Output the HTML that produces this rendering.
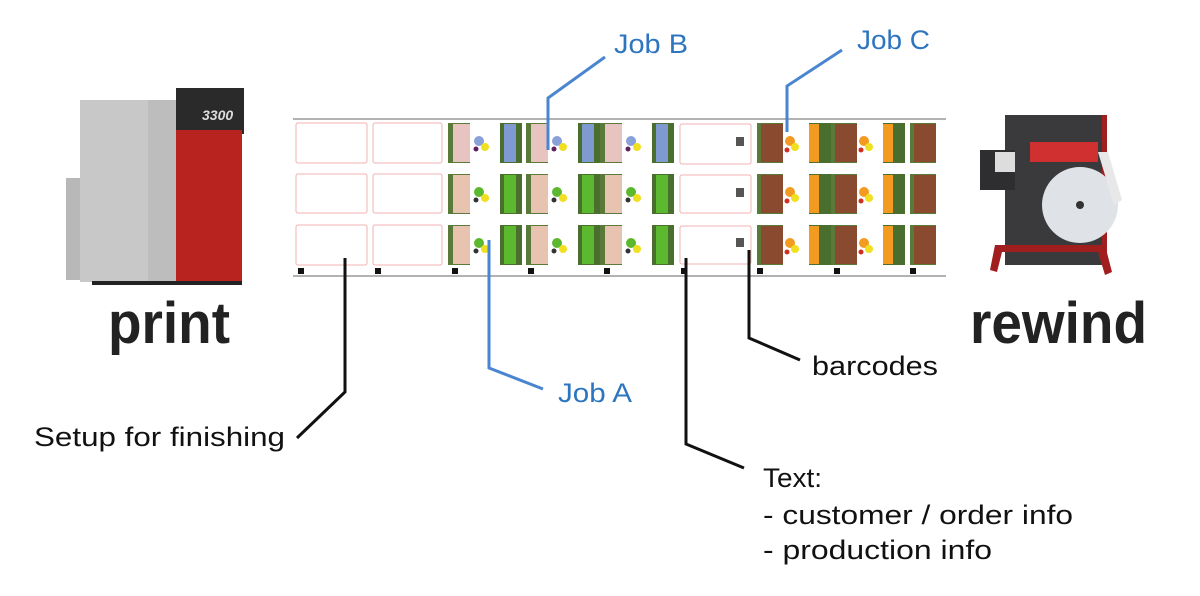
<!DOCTYPE html>
<html><head><meta charset="utf-8"><style>
html,body{margin:0;padding:0;background:#fff;}
svg{display:block;}
text{font-family:"Liberation Sans",sans-serif;}
</style></head><body>
<svg width="1200" height="596" viewBox="0 0 1200 596" xmlns="http://www.w3.org/2000/svg">
<defs>
<g id="jobA">
  <rect x="0" y="0" width="22" height="40" fill="#5a7a3a"/>
  <rect x="5" y="1" width="17" height="38" fill="#e8c4b0"/>
  <rect x="22" y="0" width="30" height="40" fill="#fff"/>
  <circle cx="31" cy="18" r="5" fill="#5cb82e"/>
  <circle cx="37" cy="24" r="4" fill="#f0e020"/>
  <circle cx="28" cy="26" r="2.5" fill="#333"/>
  <rect x="52" y="0" width="22" height="40" fill="#4a6e2e"/>
  <rect x="56" y="1" width="12" height="38" fill="#5cb82e"/>
</g>
<g id="jobB">
  <rect x="0" y="0" width="22" height="40" fill="#5a7a3a"/>
  <rect x="5" y="1" width="17" height="38" fill="#e8c4c0"/>
  <rect x="22" y="0" width="30" height="40" fill="#fff"/>
  <circle cx="31" cy="18" r="5" fill="#8aa0d8"/>
  <circle cx="37" cy="24" r="4" fill="#f0e020"/>
  <circle cx="28" cy="26" r="2.5" fill="#602060"/>
  <rect x="52" y="0" width="22" height="40" fill="#4a6e2e"/>
  <rect x="56" y="1" width="12" height="38" fill="#7e9ad0"/>
</g>
<g id="jobC">
  <rect x="0" y="0" width="26" height="40" fill="#5a7a3a"/>
  <rect x="4" y="1" width="22" height="38" fill="#8a4a30"/>
  <rect x="26" y="0" width="26" height="40" fill="#fff"/>
  <circle cx="33" cy="18" r="5" fill="#f39a20"/>
  <circle cx="38" cy="24" r="4" fill="#f0e020"/>
  <circle cx="30" cy="27" r="2.5" fill="#d03020"/>
  <rect x="52" y="0" width="22" height="40" fill="#4a6e2e"/>
  <rect x="52" y="1" width="10" height="38" fill="#f39a20"/>
</g>
</defs>

<!-- printer -->
<rect x="66" y="178" width="20" height="102" fill="#b8b8b8"/>
<rect x="80" y="100" width="68" height="182" fill="#c8c8c8"/>
<rect x="148" y="100" width="30" height="182" fill="#bdbdbd"/>
<rect x="176" y="88" width="68" height="46" fill="#2a2a2a"/>
<rect x="176" y="130" width="66" height="152" fill="#b8231f"/>
<text x="202" y="120" font-size="14" font-weight="bold" font-style="italic" fill="#ddd">3300</text>
<rect x="92" y="281" width="150" height="4" fill="#222"/>

<!-- rewinder -->
<rect x="1005" y="115" width="100" height="150" fill="#3a3a3c"/>
<rect x="1102" y="115" width="5" height="150" fill="#a02020"/>
<rect x="1030" y="142" width="68" height="20" fill="#d03030"/>
<rect x="980" y="150" width="35" height="40" fill="#2e2e30"/>
<rect x="995" y="152" width="20" height="20" fill="#ddd"/>
<circle cx="1080" cy="205" r="38" fill="#dfe3e8"/>
<circle cx="1080" cy="205" r="4" fill="#333"/>
<path d="M1098 152 L1108 152 L1122 200 L1114 205 Z" fill="#e8e8e8"/>
<path d="M990 270 L995 245 L1105 245 L1112 272 L1105 275 L1098 252 L1002 252 L997 272 Z" fill="#a01e1e"/>

<!-- strip -->
<line x1="293" y1="119" x2="946" y2="119" stroke="#999" stroke-width="1.5"/>
<line x1="293" y1="276" x2="946" y2="276" stroke="#999" stroke-width="1.5"/>
<g fill="none" stroke="#f0b0b0" stroke-width="1">
<rect x="296" y="123" width="71" height="40" rx="2"/><rect x="373" y="123" width="69" height="40" rx="2"/>
<rect x="296" y="174" width="71" height="39" rx="2"/><rect x="373" y="174" width="69" height="39" rx="2"/>
<rect x="296" y="225" width="71" height="40" rx="2"/><rect x="373" y="225" width="69" height="40" rx="2"/>
<rect x="680" y="124" width="71" height="40" rx="2"/>
<rect x="680" y="175" width="71" height="38" rx="2"/>
<rect x="680" y="226" width="71" height="38" rx="2"/>
</g>
<g fill="#555"><rect x="736" y="137" width="8" height="9"/><rect x="736" y="188" width="8" height="9"/><rect x="736" y="238" width="8" height="9"/></g>
<use href="#jobB" x="448" y="123"/><use href="#jobB" x="526" y="123"/><use href="#jobB" x="600" y="123"/>
<use href="#jobA" x="448" y="174"/><use href="#jobA" x="526" y="174"/><use href="#jobA" x="600" y="174"/>
<use href="#jobA" x="448" y="225"/><use href="#jobA" x="526" y="225"/><use href="#jobA" x="600" y="225"/>
<use href="#jobC" x="757" y="123"/><use href="#jobC" x="831" y="123"/>
<use href="#jobC" x="757" y="174"/><use href="#jobC" x="831" y="174"/>
<use href="#jobC" x="757" y="225"/><use href="#jobC" x="831" y="225"/>
<svg x="910" y="120" width="26" height="150"><use href="#jobC" x="0" y="3"/><use href="#jobC" x="0" y="54"/><use href="#jobC" x="0" y="105"/></svg>
<g fill="#111">
<rect x="298" y="268" width="6" height="6"/><rect x="375" y="268" width="6" height="6"/><rect x="452" y="268" width="6" height="6"/>
<rect x="528" y="268" width="6" height="6"/><rect x="604" y="268" width="6" height="6"/><rect x="681" y="268" width="6" height="6"/>
<rect x="757" y="268" width="6" height="6"/><rect x="834" y="268" width="6" height="6"/><rect x="910" y="268" width="6" height="6"/>
</g>

<!-- connectors -->
<g fill="none" stroke-width="3">
<polyline points="548,150 548,98 605,57" stroke="#4a86cf"/>
<polyline points="787,132 787,86 842,50" stroke="#4a86cf"/>
<polyline points="489,240 489,368 543,389" stroke="#4a86cf"/>
<polyline points="345,258 345,392 297,438" stroke="#111"/>
<polyline points="686,258 686,444 744,468" stroke="#111"/>
<polyline points="749,250 749,338 800,360" stroke="#111"/>
</g>

<!-- labels -->
<text x="614" y="53" font-size="27" fill="#2e75c0" textLength="74" lengthAdjust="spacingAndGlyphs">Job B</text>
<text x="857" y="49" font-size="27" fill="#2e75c0" textLength="73" lengthAdjust="spacingAndGlyphs">Job C</text>
<text x="558" y="402" font-size="27" fill="#2e75c0" textLength="74" lengthAdjust="spacingAndGlyphs">Job A</text>
<text x="34" y="446" font-size="27" fill="#111" textLength="251" lengthAdjust="spacingAndGlyphs">Setup for finishing</text>
<text x="812" y="375" font-size="27" fill="#111" textLength="126" lengthAdjust="spacingAndGlyphs">barcodes</text>
<text x="763" y="487" font-size="27" fill="#111" textLength="59" lengthAdjust="spacingAndGlyphs">Text:</text>
<text x="763" y="524" font-size="27" fill="#111" textLength="310" lengthAdjust="spacingAndGlyphs">- customer / order info</text>
<text x="763" y="559" font-size="27" fill="#111" textLength="229" lengthAdjust="spacingAndGlyphs">- production info</text>
<text x="108" y="343" font-size="58" font-weight="bold" fill="#222" textLength="122" lengthAdjust="spacingAndGlyphs">print</text>
<text x="970" y="343" font-size="58" font-weight="bold" fill="#222" textLength="177" lengthAdjust="spacingAndGlyphs">rewind</text>
</svg>
</body></html>
